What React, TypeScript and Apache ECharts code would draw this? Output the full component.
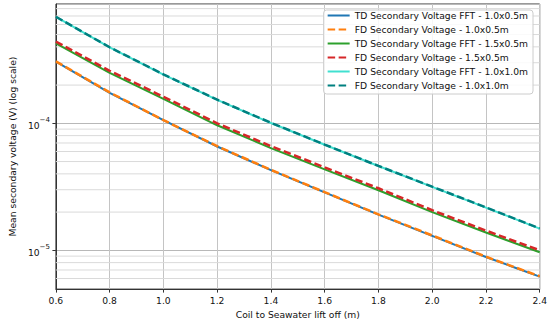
import React, { useEffect, useRef } from "react";
import * as echarts from "echarts";

const liftOff = [0.6, 0.8, 1.0, 1.2, 1.4, 1.6, 1.8, 2.0, 2.2, 2.4];

const td10x05 = [3.06e-4, 1.74e-4, 1.06e-4, 6.57e-5, 4.28e-5, 2.86e-5, 1.91e-5, 1.30e-5, 8.85e-6, 6.21e-6];
const fd10x05 = [3.07e-4, 1.75e-4, 1.06e-4, 6.6e-5, 4.3e-5, 2.87e-5, 1.92e-5, 1.31e-5, 8.9e-6, 6.25e-6];
const td15x05 = [4.26e-4, 2.5e-4, 1.56e-4, 9.65e-5, 6.38e-5, 4.34e-5, 2.97e-5, 2.0e-5, 1.38e-5, 9.65e-6];
const fd15x05 = [4.4e-4, 2.59e-4, 1.62e-4, 1.0e-4, 6.61e-5, 4.5e-5, 3.08e-5, 2.07e-5, 1.43e-5, 1.0e-5];
const td10x10 = [6.89e-4, 3.96e-4, 2.42e-4, 1.53e-4, 1.005e-4, 6.78e-5, 4.61e-5, 3.16e-5, 2.17e-5, 1.48e-5];
const fd10x10 = [6.9e-4, 3.97e-4, 2.43e-4, 1.535e-4, 1.01e-4, 6.8e-5, 4.62e-5, 3.17e-5, 2.18e-5, 1.485e-5];

const seriesNames = [
  "TD Secondary Voltage FFT - 1.0x0.5m",
  "FD Secondary Voltage - 1.0x0.5m",
  "TD Secondary Voltage FFT - 1.5x0.5m",
  "FD Secondary Voltage - 1.5x0.5m",
  "TD Secondary Voltage FFT - 1.0x1.0m",
  "FD Secondary Voltage - 1.0x1.0m",
];
const seriesValues = [td10x05, fd10x05, td15x05, fd15x05, td10x10, fd10x10];
const seriesColors = ["#1f77b4", "#ff7f0e", "#2ca02c", "#d62728", "#40e0d0", "#008080"];
const seriesDashed = [false, true, false, true, false, true];

const minorGridValues = [
  6e-6, 7e-6, 8e-6, 9e-6,
  2e-5, 3e-5, 4e-5, 5e-5, 6e-5, 7e-5, 8e-5, 9e-5,
  2e-4, 3e-4, 4e-4, 5e-4, 6e-4, 7e-4, 8e-4,
];

const xTicks = { min: 0.6, max: 2.4, interval: 0.2 };
const yRange = { min: 4.95e-6, max: 8.7e-4 };

const FONT = "DejaVu Sans";
const FS = 9.2;

export default function App() {
  const ref = useRef<HTMLDivElement>(null);
  useEffect(() => {
    if (!ref.current) return;
    const chart = echarts.init(ref.current, null, { renderer: "svg" });
    const lines: any[] = seriesNames.map((name, i) => ({
      name,
      type: "line",
      data: liftOff.map((x, j) => [x, seriesValues[i][j]]),
      showSymbol: false,
      symbol: "none",
      z: 3,
      lineStyle: {
        color: seriesColors[i],
        width: seriesDashed[i] ? 2.5 : 2,
        type: seriesDashed[i] ? [7.5, 3.5] : "solid",
        cap: "butt",
      },
      itemStyle: { color: seriesColors[i] },
    }));
    const minorGrid: any[] = minorGridValues.map((v) => ({
      name: "minor-" + v,
      type: "line",
      data: [[xTicks.min, v], [xTicks.max, v]],
      symbol: "none",
      showSymbol: false,
      silent: true,
      z: 1,
      lineStyle: { color: "#dadada", width: 1, type: "solid" },
      emphasis: { disabled: true },
    }));
    chart.setOption({
      animation: false,
      textStyle: { fontFamily: FONT },
      grid: {
        left: 44,
        right: 10,
        top: 4,
        bottom: 33,
        show: true,
        borderColor: "#333",
        borderWidth: 1,
        backgroundColor: "transparent",
      },
      legend: {
        data: seriesNames,
        orient: "vertical",
        right: 17,
        top: 10,
        itemWidth: 22,
        itemHeight: 11,
        itemGap: 3,
        padding: [0, 5, 3, 3],
        backgroundColor: "rgba(255,255,255,0.85)",
        borderColor: "#cccccc",
        borderWidth: 1,
        borderRadius: 3,
        itemStyle: { opacity: 0, borderWidth: 0 },
        textStyle: { fontFamily: FONT, fontSize: FS, color: "#111", lineHeight: 11 },
      },
      xAxis: {
        type: "value",
        min: xTicks.min,
        max: xTicks.max,
        interval: xTicks.interval,
        name: "Coil to Seawater lift off (m)",
        nameLocation: "middle",
        nameGap: 18,
        nameTextStyle: { fontFamily: FONT, fontSize: FS, color: "#111" },
        axisLine: { show: true, lineStyle: { color: "#333" } },
        axisTick: { show: true, inside: false, length: 3.5, lineStyle: { color: "#333" } },
        axisLabel: {
          fontFamily: FONT,
          fontSize: FS,
          color: "#111",
          margin: 7,
          formatter: (v: number) => v.toFixed(1),
        },
        splitLine: { show: true, lineStyle: { color: "#c4c4c4", width: 1 } },
      },
      yAxis: {
        type: "log",
        logBase: 10,
        min: yRange.min,
        max: yRange.max,
        name: "Mean secondary voltage (V) (log scale)",
        nameLocation: "middle",
        nameGap: 33,
        nameTextStyle: { fontFamily: FONT, fontSize: FS, color: "#111" },
        axisLine: { show: true, lineStyle: { color: "#333" } },
        axisTick: { show: true, inside: false, length: 3.5, lineStyle: { color: "#333" } },
        axisLabel: {
          fontFamily: FONT,
          fontSize: FS,
          color: "#111",
          margin: 6,
          showMinLabel: false,
          showMaxLabel: false,
          formatter: (v: number) => {
            const e = Math.log10(v);
            const r = Math.round(e);
            if (Math.abs(e - r) > 1e-6) return "";
            return "{b|10}{s|\u2212" + String(Math.abs(r)) + "}";
          },
          rich: {
            b: { fontFamily: FONT, fontSize: FS, color: "#111", lineHeight: 14, verticalAlign: "bottom", padding: [4, 0, 0, 0] },
            s: { fontFamily: FONT, fontSize: 7, color: "#111", lineHeight: 14, verticalAlign: "top", padding: [0, 0, 4, 0] },
          },
        },
        splitLine: { show: true, lineStyle: { color: "#b8b8b8", width: 1 } },
      },
      series: [...minorGrid, ...lines],
    });
    return () => chart.dispose();
  }, []);
  return (
    <div
      ref={ref}
      style={{ position: "fixed", left: 0, top: 0, width: 550, height: 324, background: "#fff" }}
    />
  );
}
